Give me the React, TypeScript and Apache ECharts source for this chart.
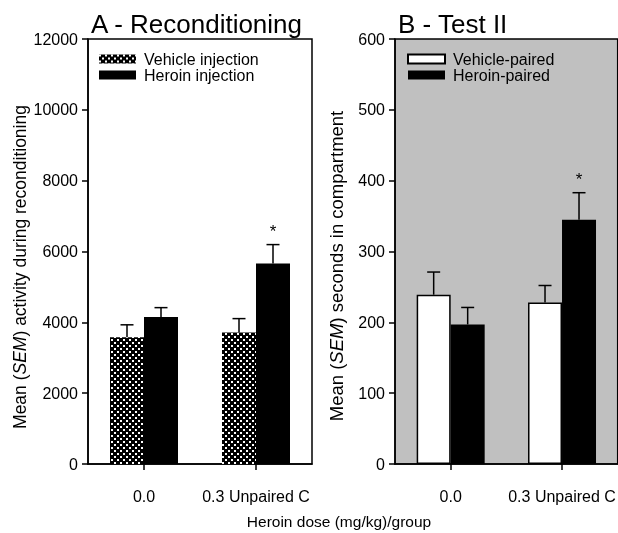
import React, { useEffect, useRef } from "react";
import * as echarts from "echarts";

const categories = ["0.0", "0.3 Unpaired C"];
const aVehicle = [3580, 3710];
const aVehicleErr = [350, 395];
const aHeroin = [4150, 5660];
const aHeroinErr = [265, 535];
const aHeroinSig = [false, true];
const bVehicle = [239, 228];
const bVehicleErr = [32, 24];
const bHeroin = [197, 345];
const bHeroinErr = [24, 38];
const bHeroinSig = [false, true];

const FONT = "Liberation Sans, Arial, sans-serif";

function makePattern(): HTMLCanvasElement {
  const c = document.createElement("canvas");
  c.width = 6;
  c.height = 6;
  const ctx = c.getContext("2d")!;
  ctx.fillStyle = "#000";
  ctx.fillRect(0, 0, 6, 6);
  ctx.fillStyle = "#fff";
  ctx.fillRect(0, 0, 2, 2);
  ctx.fillRect(3, 3, 2, 2);
  return c;
}

function errSeries(axisIndex: number, means: number[], errs: number[], sig: boolean[] | null, offset: number) {
  return {
    type: "custom",
    xAxisIndex: axisIndex,
    yAxisIndex: axisIndex,
    z: 5,
    silent: true,
    data: means.map((m, i) => [i, m, errs[i], sig && sig[i] ? 1 : 0]),
    renderItem: (params: any, api: any) => {
      const i = api.value(0);
      const m = api.value(1);
      const e = api.value(2);
      const s = api.value(3);
      const p0 = api.coord([i, m]);
      const p1 = api.coord([i, m + e]);
      const x = p0[0] + offset;
      const children: any[] = [
        { type: "line", shape: { x1: x, y1: p0[1], x2: x, y2: p1[1] }, style: { stroke: "#000", lineWidth: 1.5 } },
        { type: "line", shape: { x1: x - 6.5, y1: p1[1], x2: x + 6.5, y2: p1[1] }, style: { stroke: "#000", lineWidth: 1.5 } },
      ];
      if (s) {
        children.push({
          type: "text",
          style: { text: "*", x: x, y: p1[1] - 5, align: "center", verticalAlign: "bottom", fontSize: 17, fontFamily: FONT, fill: "#000" },
        });
      }
      return { type: "group", children };
    },
  };
}

function yTitle(text: string, x: number, y: number, fs: number) {
  return {
    type: "text",
    x,
    y,
    rotation: Math.PI / 2,
    style: {
      text,
      fontSize: fs,
      fontFamily: FONT,
      fill: "#000",
      align: "center",
      verticalAlign: "middle",
      rich: { i: { fontSize: fs, fontStyle: "italic", fontFamily: FONT, fill: "#000" } },
    },
  };
}

export default function App() {
  const ref = useRef<HTMLDivElement>(null);
  useEffect(() => {
    if (!ref.current) return;
    const chart = echarts.init(ref.current, null, { renderer: "svg" });
    const pattern = { image: makePattern(), repeat: "repeat" };
    const axisLabel = { fontSize: 16, color: "#000", fontFamily: FONT };
    const yCommon = {
      type: "value",
      splitLine: { show: false },
      axisLine: { show: true, lineStyle: { color: "#000", width: 1.5 } },
      axisTick: { show: true, length: 6, lineStyle: { color: "#000", width: 1.5 } },
      axisLabel: { ...axisLabel, margin: 10, formatter: (v: number) => String(v) },
    };
    const xCommon = {
      type: "category",
      data: categories,
      axisLine: { show: true, lineStyle: { color: "#000", width: 1.5 } },
      axisTick: { show: true, alignWithLabel: true, length: 6, lineStyle: { color: "#000", width: 1.5 } },
      axisLabel: { ...axisLabel, margin: 24, interval: 0 },
    };
    const legendCommon = {
      orient: "vertical",
      top: 51,
      padding: 0,
      itemWidth: 37,
      itemHeight: 9,
      itemGap: 0,
      icon: "rect",
      textStyle: { fontSize: 16, lineHeight: 16, color: "#000", fontFamily: FONT, padding: [0, 0, 0, 3] },
      selectedMode: false,
    };
    chart.setOption({
      animation: false,
      textStyle: { fontFamily: FONT },
      title: [
        { text: "A - Reconditioning", left: 86, top: 6, textStyle: { fontSize: 26, fontWeight: "normal", color: "#000", fontFamily: FONT } },
        { text: "B - Test II", left: 393, top: 6, textStyle: { fontSize: 26, fontWeight: "normal", color: "#000", fontFamily: FONT } },
      ],
      grid: [
        { left: 88, top: 39, width: 224, height: 425, show: true, borderColor: "#000", borderWidth: 1.5, backgroundColor: "#fff" },
        { left: 395, top: 39, width: 226, height: 425, show: true, borderColor: "#000", borderWidth: 1.5, backgroundColor: "#c0c0c0" },
      ],
      legend: [
        { ...legendCommon, data: ["Vehicle injection", "Heroin injection"], left: 99 },
        { ...legendCommon, data: ["Vehicle-paired", "Heroin-paired"], left: 407 },
      ],
      xAxis: [
        { ...xCommon, gridIndex: 0 },
        { ...xCommon, gridIndex: 1 },
      ],
      yAxis: [
        { ...yCommon, gridIndex: 0, min: 0, max: 12000, interval: 2000 },
        { ...yCommon, gridIndex: 1, min: 0, max: 600, interval: 100 },
      ],
      series: [
        { name: "Vehicle injection", type: "bar", xAxisIndex: 0, yAxisIndex: 0, data: aVehicle, barWidth: 34, barGap: "0%", itemStyle: { color: pattern } },
        { name: "Heroin injection", type: "bar", xAxisIndex: 0, yAxisIndex: 0, data: aHeroin, barWidth: 34, barGap: "0%", itemStyle: { color: "#000" } },
        { name: "Vehicle-paired", type: "bar", xAxisIndex: 1, yAxisIndex: 1, data: bVehicle, barWidth: 34, barGap: "0%", itemStyle: { color: "#fff", borderColor: "#000", borderWidth: 1.5 } },
        { name: "Heroin-paired", type: "bar", xAxisIndex: 1, yAxisIndex: 1, data: bHeroin, barWidth: 34, barGap: "0%", itemStyle: { color: "#000" } },
        errSeries(0, aVehicle, aVehicleErr, null, -17),
        errSeries(0, aHeroin, aHeroinErr, aHeroinSig, 17),
        errSeries(1, bVehicle, bVehicleErr, null, -17),
        errSeries(1, bHeroin, bHeroinErr, bHeroinSig, 17),
      ],
      graphic: [
        yTitle("Mean ({i|SEM}) activity during reconditioning", 20, 267, 17.5),
        yTitle("Mean ({i|SEM}) seconds in compartment", 336, 266, 18.5),
        {
          type: "text",
          x: 339,
          y: 521,
          style: { text: "Heroin dose (mg/kg)/group", fontSize: 15.5, fontFamily: FONT, fill: "#000", align: "center", verticalAlign: "middle" },
        },
      ],
    });
    return () => chart.dispose();
  }, []);
  return <div ref={ref} style={{ position: "fixed", left: 0, top: 0, width: 618, height: 533 }} />;
}
